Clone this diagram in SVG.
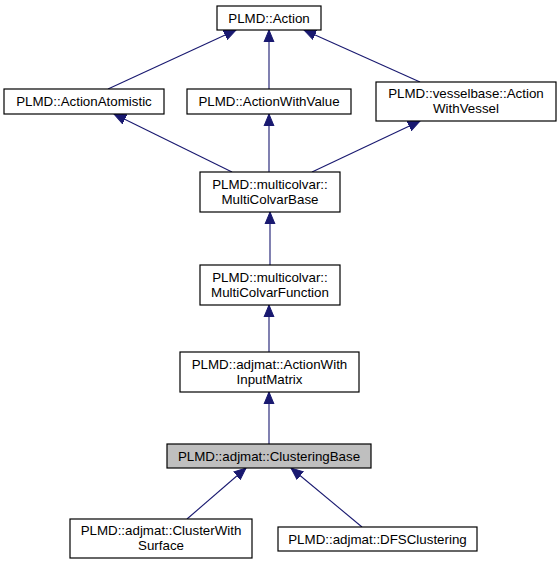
<svg xmlns="http://www.w3.org/2000/svg" width="560" height="565" viewBox="0 0 560 565">
<defs>
<style>
.n rect{fill:#ffffff;stroke:#000000;stroke-width:1.2}
.n.cur rect{fill:#bfbfbf}
.n text{font-family:"Liberation Sans",Arial,sans-serif;font-size:13.33px;fill:#000000;text-anchor:middle}
.e line{stroke:#191970;stroke-width:1.1;fill:none;marker-end:url(#ah)}
</style>
<marker id="ah" markerUnits="userSpaceOnUse" markerWidth="14" markerHeight="12" refX="12" refY="6" orient="auto">
<path d="M0,1 L12,6 L0,11 Z" fill="#191970" stroke="#191970"/>
</marker>
</defs>
<rect width="560" height="565" fill="#ffffff"/>
<g id="edges" class="e">
<line x1="108" y1="89" x2="236" y2="30"/>
<line x1="269" y1="89" x2="269" y2="30"/>
<line x1="420" y1="82" x2="304" y2="30"/>
<line x1="232" y1="172" x2="114" y2="114"/>
<line x1="269" y1="172" x2="269" y2="114"/>
<line x1="312" y1="172" x2="420" y2="121"/>
<line x1="270" y1="265" x2="270" y2="212"/>
<line x1="269" y1="352" x2="269" y2="305"/>
<line x1="269" y1="444" x2="269" y2="392"/>
<line x1="187" y1="519" x2="246" y2="468"/>
<line x1="362" y1="527" x2="291" y2="468"/>
</g>
<g id="n_action" class="n"><rect x="217" y="6" width="104" height="24"/><text x="269" y="23">PLMD::Action</text></g>
<g id="n_atomistic" class="n"><rect x="4" y="89" width="160" height="25"/><text x="84" y="106">PLMD::ActionAtomistic</text></g>
<g id="n_withvalue" class="n"><rect x="187" y="89" width="164" height="25"/><text x="269" y="106">PLMD::ActionWithValue</text></g>
<g id="n_vessel" class="n"><rect x="376" y="82" width="180" height="39"/><text x="466" y="98">PLMD::vesselbase::Action</text><text x="466" y="113">WithVessel</text></g>
<g id="n_mcbase" class="n"><rect x="200" y="172" width="140" height="40"/><text x="270" y="189">PLMD::multicolvar::</text><text x="270" y="204">MultiColvarBase</text></g>
<g id="n_mcfunc" class="n"><rect x="200" y="265" width="140" height="40"/><text x="270" y="282">PLMD::multicolvar::</text><text x="270" y="297">MultiColvarFunction</text></g>
<g id="n_inputmatrix" class="n"><rect x="180" y="352" width="179" height="40"/><text x="269.5" y="369">PLMD::adjmat::ActionWith</text><text x="269.5" y="384">InputMatrix</text></g>
<g id="n_clusteringbase" class="n cur"><rect x="167" y="444" width="204" height="24"/><text x="269" y="461">PLMD::adjmat::ClusteringBase</text></g>
<g id="n_clustersurface" class="n"><rect x="70" y="519" width="182" height="39"/><text x="161" y="535">PLMD::adjmat::ClusterWith</text><text x="161" y="550">Surface</text></g>
<g id="n_dfs" class="n"><rect x="278" y="527" width="199" height="24"/><text x="377.5" y="544">PLMD::adjmat::DFSClustering</text></g>
</svg>
